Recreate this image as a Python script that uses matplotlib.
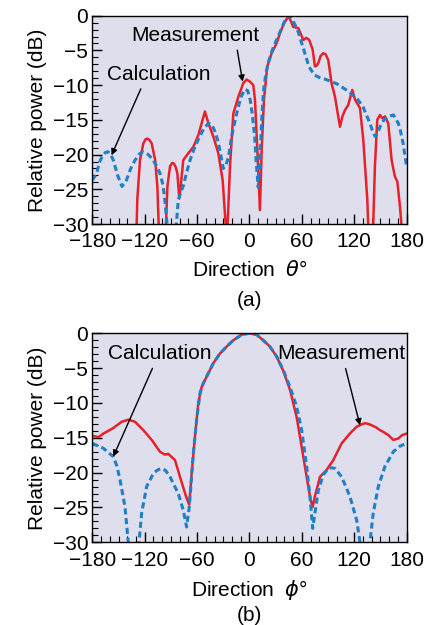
import matplotlib.pyplot as plt
import numpy as np
from matplotlib.ticker import MultipleLocator

plt.rcParams['font.family'] = ['Liberation Sans', 'DejaVu Sans']
plt.rcParams['mathtext.fontset'] = 'dejavusans'

# (a) theta cut
theta_calc = [-180, -175, -172, -169, -165, -162, -159, -156, -151, -146, -141, -136, -131, -126, -122, -117, -112, -107,
              -102.5, -99, -97, -94, -90, -85, -81.5, -78, -76, -72, -68, -62, -57, -52, -47, -43, -39.5, -36.5, -34, -30,
              -27, -24, -20.4, -17, -14.7, -11, -9, -5, -2, 1, 3, 5, 6, 8, 10, 12, 14, 16, 18, 21, 26, 32, 38,
              41, 44.5, 47, 50, 53, 56, 62, 68, 74, 80, 88, 100, 111, 123, 130, 134, 138, 141, 144, 147, 149.5,
              154, 159, 165, 170.5, 173, 176, 180]
calc_a = [-23.7, -22.7, -21.2, -20.3, -19.7, -19.6, -20.0, -20.8, -23.0, -24.6, -23.7, -22.0, -20.8, -19.9, -19.6, -19.9,
          -20.5, -21.5, -22.7, -24.4, -26.5, -30.5, -34, -32, -26.5, -25.2, -24.6, -22.6, -20.8, -18.7, -17.4, -16.2, -15.5,
          -15.7, -16.7, -17.9, -19.3, -22.0, -21.6, -20.3, -17.4, -15.4, -14.1, -12.3, -11.5, -10.6, -10.8, -12.2, -14, -16.2,
          -17.5, -21.5, -24.7, -21, -15, -11, -9, -7, -5, -3.2, -1.5, -0.6, 0, -0.2, -0.8, -1.5, -2.4, -4.8, -7.3, -8.5,
          -8.9, -9.2, -9.8, -10.7, -11.9, -13.1, -14.3, -15.5, -16.6, -17.4, -16.9, -16, -15, -14.5, -14.3, -15.5, -16.6,
          -18.4, -21.7]

theta_meas = [-131, -128.5, -125.4, -121.6, -119, -117, -114.5, -112, -108, -105.5, -104, -100, -95.6, -94, -91,
              -88.5, -86.5, -84.5, -82.6, -80.4, -78.8, -75.8, -70, -64.3, -58.6, -54.8, -51, -47, -41.4, -35.7,
              -30.7, -27.3, -26, -25, -22.3, -18.5, -12.8, -7, -3.2, 0.6, 4.4, 6.3, 9, 12, 14, 16.6, 20.4,
              25.4, 31, 35, 39.5, 42.5, 44.9, 47.5, 50, 56, 61.7, 65, 68.5, 72.4, 75, 77, 78.9, 81.5, 84.6, 87.5,
              90.3, 94, 98, 101, 103.7, 106.5, 109.4, 113, 117.8, 120.9, 126.6, 130.4, 135, 136, 139, 141.8,
              143.7, 146.4, 149.5, 152.5, 155.2, 159, 162.8, 166.7, 169.4, 172.4, 174, 176]
meas_a = [-40, -26.5, -20.8, -18.4, -17.8, -17.7, -17.9, -18.4, -20.8, -24.6, -30, -40, -30, -24.6, -21.7,
          -21.2, -21.3, -21.8, -22.7, -26.3, -24.6, -20.8, -19.8, -18.9, -17.2, -15.5, -13.8, -15.5, -17.4,
          -19.8, -23.7, -30, -40, -30, -21.7, -14.1, -11.7, -9.7, -9.2, -9.5, -10, -12.1, -19.3, -28,
          -19.3, -12.1, -7.3, -5.4, -4, -2.5, -1.1, -0.5, -0.1, -0.8, -1.6, -1.8, -3.5, -3.2, -3.5, -4.9,
          -7.3, -7.2, -6.8, -5.8, -5.4, -5.6, -6.4, -9.7, -11.7, -14, -16, -14.5, -13.6, -12.9, -10.7,
          -12.1, -13.3, -17.9, -26.5, -30, -40, -30, -21.7, -15, -14.3, -14.8, -14.5, -15.5, -20.8,
          -23.2, -23.9, -27.5, -30, -40]

# (b) phi cut
phi_calc = [-180, -167.4, -156, -152, -148.3, -142.6, -138.8, -135, -130, -126.5, -123.5, -117.8, -110, -105,
            -100.6, -96, -91, -81.5, -75.8, -72, -68.9, -64.3, -60.5, -56.7, -53, -49, -41.4, -33.8, -26.1,
            -18.5, -9, 0, 8.2, 15.8, 23.4, 31, 38.8, 46.4, 54, 59.8, 65.5, 69.3, 72.4, 75, 78.9, 84.6, 90.3,
            94, 98, 105.6, 115, 122.8, 126.6, 130, 134, 138, 141.8, 147.6, 155.2, 164.8, 172.4, 180]
calc_b = [-15.8, -16.5, -17.7, -19, -21, -24.9, -30, -36, -36, -30, -25.8, -22, -20.1, -19.6,
          -19.4, -19.7, -20.6, -23, -25.4, -27.8, -24.9, -17.2, -12.4, -8.6, -7.2, -6.2, -4.3, -2.9, -1.9,
          -1, -0.2, 0, -0.2, -1, -1.9, -3.3, -5.3, -7.7, -10.5, -13.9, -19.1, -23.4, -28, -25.8, -22.5, -20.3,
          -19.4, -19.3, -19.4, -20.6, -23.4, -26.8, -30, -36, -36, -30, -25.8, -22, -19.1, -17, -16.2, -15.8]

phi_meas = [-180, -173, -167.4, -156, -146.4, -138.8, -131, -121.6, -112, -102.5, -97, -93, -85.3, -79.6,
            -72.7, -69, -66.2, -62.4, -58.6, -54.8, -49, -41.4, -33.8, -26.1, -18.5, -9, 0, 8.2,
            15.8, 23.4, 31, 38.8, 46.4, 54, 59.8, 65.5, 70, 72.4, 75, 80.8, 88.4, 96, 105.6, 115,
            122.8, 128, 132.3, 136, 140, 145, 149.5, 154, 159, 164.8, 170.5, 175, 180]
meas_b = [-14.7, -14.9, -14.4, -13.6, -12.7, -12.4, -12.7, -13.9, -15.3, -17, -17.4, -17.3, -18.2, -20.6,
          -23.4, -24.6, -20.1, -14.8, -10, -7.7, -6.2, -4.3, -2.9, -1.9, -1, -0.2, 0, -0.2,
          -1, -1.9, -3.3, -5.4, -8.1, -12, -16.3, -20.6, -23.9, -24.9, -23.4, -20.6, -19.6, -18.2, -15.8, -14.4,
          -13.4, -13.1, -12.9, -13.0, -13.2, -13.5, -13.9, -14.2, -14.6, -15.3, -15.1, -14.6, -14.4]

red = '#e8202a'
blue = '#1f7fc8'
face = '#dedeed'

fig = plt.figure(figsize=(4.28, 6.25), dpi=100)
ax1 = fig.add_axes([0.2157, 0.6416, 0.7343, 0.3333])
ax2 = fig.add_axes([0.2157, 0.1323, 0.7343, 0.3344])

for ax in (ax1, ax2):
    ax.set_facecolor(face)
    ax.set_xlim(-180, 180)
    ax.set_ylim(-30, 0)
    ax.xaxis.set_major_locator(MultipleLocator(60))
    ax.xaxis.set_minor_locator(MultipleLocator(10))
    ax.yaxis.set_major_locator(MultipleLocator(5))
    ax.yaxis.set_minor_locator(MultipleLocator(1))
    ax.tick_params(which='both', direction='in', labelsize=15, top=False, right=False)
    ax.tick_params(which='major', length=7, width=1)
    ax.tick_params(which='minor', length=4, width=0.8)
    ax.tick_params(axis='x', which='major', pad=6)
    ax.tick_params(axis='y', which='major', pad=3)
    ax.set_ylabel('Relative power (dB)', fontsize=15, labelpad=4)
    for s in ax.spines.values():
        s.set_linewidth(1)

arrow = dict(arrowstyle='-|>', color='black', lw=1, shrinkA=2, shrinkB=0, mutation_scale=9)

ax1.plot(theta_meas, meas_a, color=red, lw=1.8)
ax1.plot(theta_calc, calc_a, color=blue, lw=2.2, ls=(0, (2.0, 1.2)))
ax1.set_xlabel(r'Direction  $\theta$°', fontsize=15, labelpad=6)
ax1.annotate('Measurement', xy=(-7.8, -9.5), xytext=(-62, -2.8), fontsize=15,
             ha='center', va='center', arrowprops=dict(arrow, relpos=(0.82, 0.0)))
ax1.annotate('Calculation', xy=(-158, -20.1), xytext=(-104, -8.4), fontsize=15,
             ha='center', va='center', arrowprops=dict(arrow, relpos=(0.35, 0.0)))
ax1.text(0.5, -0.365, '(a)', transform=ax1.transAxes, ha='center', va='center', fontsize=15)

ax2.plot(phi_meas, meas_b, color=red, lw=1.8)
ax2.plot(phi_calc, calc_b, color=blue, lw=2.2, ls=(0, (2.0, 1.2)))
ax2.set_xlabel(r'Direction  $\phi$°', fontsize=15, labelpad=6)
ax2.annotate('Calculation', xy=(-156, -17.7), xytext=(-102.5, -2.9), fontsize=15,
             ha='center', va='center', arrowprops=dict(arrow, relpos=(0.45, 0.0)))
ax2.annotate('Measurement', xy=(126.6, -13.2), xytext=(105.6, -2.9), fontsize=15,
             ha='center', va='center', arrowprops=dict(arrow, relpos=(0.52, 0.0)))
ax2.text(0.5, -0.35, '(b)', transform=ax2.transAxes, ha='center', va='center', fontsize=15)

fig.savefig('out.png', dpi=100)
